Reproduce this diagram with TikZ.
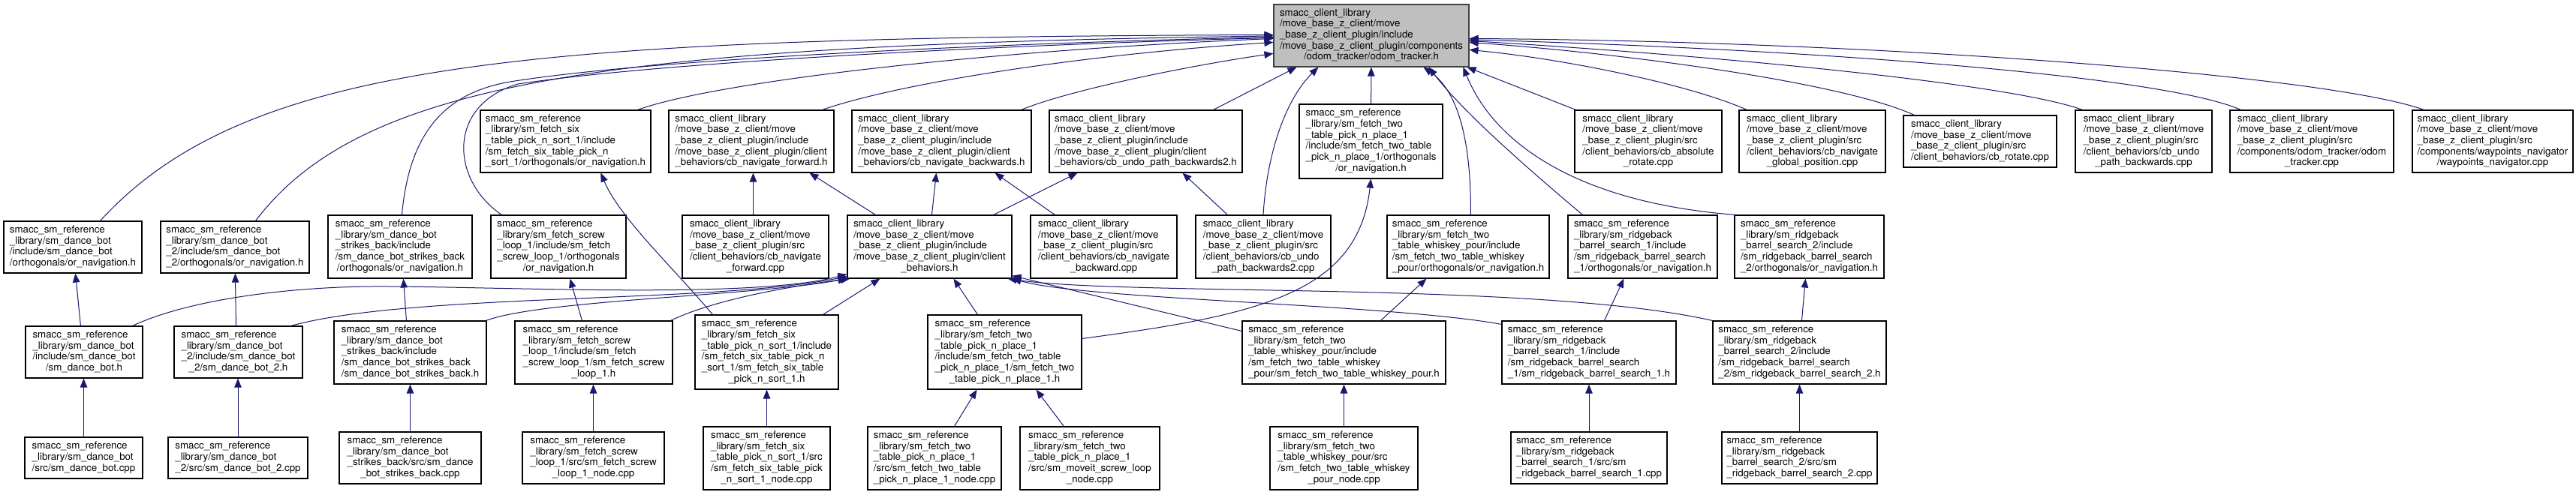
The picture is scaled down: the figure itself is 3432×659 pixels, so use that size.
\documentclass[tikz,border=0pt]{standalone}
\usepackage{fontspec}
\setmainfont{TeX Gyre Heros}
\usetikzlibrary{arrows.meta,calc}
\definecolor{edgec}{HTML}{191970}
\definecolor{rootfill}{HTML}{BFBFBF}
\definecolor{rootdraw}{HTML}{404040}
\newcommand\lc[1]{\multicolumn{1}{@{}c@{}}{#1}}
\newcommand\nd[7][]{%
 \pgfmathsetmacro\ndw{#5-#3}%
 \pgfmathsetmacro\ndh{#6-#4}%
 \pgfmathsetmacro\ndcx{(#3+#5)/2}%
 \pgfmathsetmacro\ndcy{(#4+#6)/2}%
 \node[box,#1,minimum width=\ndw pt,minimum height=\ndh pt] (#2) at (\ndcx,\ndcy) {\begin{tabular}{@{}l@{}}#7\end{tabular}};%
}
\tikzset{
 box/.style={draw=black,line width=1.1pt,fill=white,inner sep=0pt,
   font=\fontsize{13.33}{14.7}\selectfont},
 rootbox/.style={fill=rootfill,draw=rootdraw},
 dep/.style={draw=edgec,line width=1pt,-{Triangle[length=12pt,width=9.5pt]}}
}
\begin{document}
\begin{tikzpicture}[x=1pt,y=-1pt]
\fill[white] (0,0) rectangle (3432,659);
\useasboundingbox (0,0) rectangle (3432,659);

% root
\nd[rootbox]{root}{1697}{6}{1957}{89}{smacc\_client\_library\\/move\_base\_z\_client/move\\\_base\_z\_client\_plugin/include\\/move\_base\_z\_client\_plugin/components\\\lc{/odom\_tracker/odom\_tracker.h}}

% row 2
\nd{fsixor}{640}{147}{867}{230}{smacc\_sm\_reference\\\_library/sm\_fetch\_six\\\_table\_pick\_n\_sort\_1/include\\/sm\_fetch\_six\_table\_pick\_n\\\lc{\_sort\_1/orthogonals/or\_navigation.h}}
\nd{navfh}{891}{147}{1111}{230}{smacc\_client\_library\\/move\_base\_z\_client/move\\\_base\_z\_client\_plugin/include\\/move\_base\_z\_client\_plugin/client\\\lc{\_behaviors/cb\_navigate\_forward.h}}
\nd{navbh}{1135}{147}{1374}{230}{smacc\_client\_library\\/move\_base\_z\_client/move\\\_base\_z\_client\_plugin/include\\/move\_base\_z\_client\_plugin/client\\\lc{\_behaviors/cb\_navigate\_backwards.h}}
\nd{undoh}{1398}{147}{1655}{230}{smacc\_client\_library\\/move\_base\_z\_client/move\\\_base\_z\_client\_plugin/include\\/move\_base\_z\_client\_plugin/client\\\lc{\_behaviors/cb\_undo\_path\_backwards2.h}}
\nd{ftwoor}{1731}{139}{1922}{238}{smacc\_sm\_reference\\\_library/sm\_fetch\_two\\\_table\_pick\_n\_place\_1\\/include/sm\_fetch\_two\_table\\\_pick\_n\_place\_1/orthogonals\\\lc{/or\_navigation.h}}
\nd{absrot}{2098}{147}{2294}{230}{smacc\_client\_library\\/move\_base\_z\_client/move\\\_base\_z\_client\_plugin/src\\/client\_behaviors/cb\_absolute\\\lc{\_rotate.cpp}}
\nd{globpos}{2317}{147}{2512}{230}{smacc\_client\_library\\/move\_base\_z\_client/move\\\_base\_z\_client\_plugin/src\\/client\_behaviors/cb\_navigate\\\lc{\_global\_position.cpp}}
\nd{rotate}{2536}{154}{2740}{223}{smacc\_client\_library\\/move\_base\_z\_client/move\\\_base\_z\_client\_plugin/src\\\lc{/client\_behaviors/cb\_rotate.cpp}}
\nd{undocpp}{2765}{147}{2947}{230}{smacc\_client\_library\\/move\_base\_z\_client/move\\\_base\_z\_client\_plugin/src\\/client\_behaviors/cb\_undo\\\lc{\_path\_backwards.cpp}}
\nd{odomcpp}{2971}{147}{3189}{230}{smacc\_client\_library\\/move\_base\_z\_client/move\\\_base\_z\_client\_plugin/src\\/components/odom\_tracker/odom\\\lc{\_tracker.cpp}}
\nd{waypts}{3214}{147}{3428}{230}{smacc\_client\_library\\/move\_base\_z\_client/move\\\_base\_z\_client\_plugin/src\\/components/waypoints\_navigator\\\lc{/waypoints\_navigator.cpp}}

% row 3
\nd{dbor}{5}{295}{189}{364}{smacc\_sm\_reference\\\_library/sm\_dance\_bot\\/include/sm\_dance\_bot\\\lc{/orthogonals/or\_navigation.h}}
\nd{dbtor}{214}{295}{412}{364}{smacc\_sm\_reference\\\_library/sm\_dance\_bot\\\_2/include/sm\_dance\_bot\\\lc{\_2/orthogonals/or\_navigation.h}}
\nd{sbor}{437}{287}{629}{371}{smacc\_sm\_reference\\\_library/sm\_dance\_bot\\\_strikes\_back/include\\/sm\_dance\_bot\_strikes\_back\\\lc{/orthogonals/or\_navigation.h}}
\nd{fscrewor}{654}{287}{834}{371}{smacc\_sm\_reference\\\_library/sm\_fetch\_screw\\\_loop\_1/include/sm\_fetch\\\_screw\_loop\_1/orthogonals\\\lc{/or\_navigation.h}}
\nd{navfcpp}{909}{287}{1104}{371}{smacc\_client\_library\\/move\_base\_z\_client/move\\\_base\_z\_client\_plugin/src\\/client\_behaviors/cb\_navigate\\\lc{\_forward.cpp}}
\nd{cbh}{1129}{287}{1348}{371}{smacc\_client\_library\\/move\_base\_z\_client/move\\\_base\_z\_client\_plugin/include\\/move\_base\_z\_client\_plugin/client\\\lc{\_behaviors.h}}
\nd{navbcpp}{1373}{287}{1568}{371}{smacc\_client\_library\\/move\_base\_z\_client/move\\\_base\_z\_client\_plugin/src\\/client\_behaviors/cb\_navigate\\\lc{\_backward.cpp}}
\nd{undotcpp}{1593}{287}{1773}{371}{smacc\_client\_library\\/move\_base\_z\_client/move\\\_base\_z\_client\_plugin/src\\/client\_behaviors/cb\_undo\\\lc{\_path\_backwards2.cpp}}
\nd{whiskor}{1848}{287}{2064}{371}{smacc\_sm\_reference\\\_library/sm\_fetch\_two\\\_table\_whiskey\_pour/include\\/sm\_fetch\_two\_table\_whiskey\\\lc{\_pour/orthogonals/or\_navigation.h}}
\nd{rbaor}{2089}{287}{2288}{371}{smacc\_sm\_reference\\\_library/sm\_ridgeback\\\_barrel\_search\_1/include\\/sm\_ridgeback\_barrel\_search\\\lc{\_1/orthogonals/or\_navigation.h}}
\nd{rbbor}{2311}{287}{2510}{371}{smacc\_sm\_reference\\\_library/sm\_ridgeback\\\_barrel\_search\_2/include\\/sm\_ridgeback\_barrel\_search\\\lc{\_2/orthogonals/or\_navigation.h}}

% row 4
\nd{dbh}{34}{435}{190}{504}{smacc\_sm\_reference\\\_library/sm\_dance\_bot\\/include/sm\_dance\_bot\\\lc{/sm\_dance\_bot.h}}
\nd{dbth}{232}{435}{403}{504}{smacc\_sm\_reference\\\_library/sm\_dance\_bot\\\_2/include/sm\_dance\_bot\\\lc{\_2/sm\_dance\_bot\_2.h}}
\nd{sbh}{445}{428}{648}{512}{smacc\_sm\_reference\\\_library/sm\_dance\_bot\\\_strikes\_back/include\\/sm\_dance\_bot\_strikes\_back\\\lc{/sm\_dance\_bot\_strikes\_back.h}}
\nd{fscrewh}{686}{428}{896}{512}{smacc\_sm\_reference\\\_library/sm\_fetch\_screw\\\_loop\_1/include/sm\_fetch\\\_screw\_loop\_1/sm\_fetch\_screw\\\lc{\_loop\_1.h}}
\nd{fsixh}{926}{420}{1117}{519}{smacc\_sm\_reference\\\_library/sm\_fetch\_six\\\_table\_pick\_n\_sort\_1/include\\/sm\_fetch\_six\_table\_pick\_n\\\_sort\_1/sm\_fetch\_six\_table\\\lc{\_pick\_n\_sort\_1.h}}
\nd{ftwoh}{1236}{420}{1441}{519}{smacc\_sm\_reference\\\_library/sm\_fetch\_two\\\_table\_pick\_n\_place\_1\\/include/sm\_fetch\_two\_table\\\_pick\_n\_place\_1/sm\_fetch\_two\\\lc{\_table\_pick\_n\_place\_1.h}}
\nd{whiskh}{1655}{428}{1926}{512}{smacc\_sm\_reference\\\_library/sm\_fetch\_two\\\_table\_whiskey\_pour/include\\/sm\_fetch\_two\_table\_whiskey\\\lc{\_pour/sm\_fetch\_two\_table\_whiskey\_pour.h}}
\nd{rbah}{2001}{428}{2233}{512}{smacc\_sm\_reference\\\_library/sm\_ridgeback\\\_barrel\_search\_1/include\\/sm\_ridgeback\_barrel\_search\\\lc{\_1/sm\_ridgeback\_barrel\_search\_1.h}}
\nd{rbbh}{2282}{428}{2513}{512}{smacc\_sm\_reference\\\_library/sm\_ridgeback\\\_barrel\_search\_2/include\\/sm\_ridgeback\_barrel\_search\\\lc{\_2/sm\_ridgeback\_barrel\_search\_2.h}}

% row 5
\nd{dbcpp}{33}{583}{190}{638}{smacc\_sm\_reference\\\_library/sm\_dance\_bot\\\lc{/src/sm\_dance\_bot.cpp}}
\nd{dbtcpp}{224}{583}{410}{638}{smacc\_sm\_reference\\\_library/sm\_dance\_bot\\\lc{\_2/src/sm\_dance\_bot\_2.cpp}}
\nd{sbcpp}{452}{576}{641}{645}{smacc\_sm\_reference\\\_library/sm\_dance\_bot\\\_strikes\_back/src/sm\_dance\\\lc{\_bot\_strikes\_back.cpp}}
\nd{fscrewcpp}{696}{576}{885}{645}{smacc\_sm\_reference\\\_library/sm\_fetch\_screw\\\_loop\_1/src/sm\_fetch\_screw\\\lc{\_loop\_1\_node.cpp}}
\nd{fsixcpp}{937}{569}{1106}{653}{smacc\_sm\_reference\\\_library/sm\_fetch\_six\\\_table\_pick\_n\_sort\_1/src\\/sm\_fetch\_six\_table\_pick\\\lc{\_n\_sort\_1\_node.cpp}}
\nd{ftwocpp}{1156}{569}{1334}{653}{smacc\_sm\_reference\\\_library/sm\_fetch\_two\\\_table\_pick\_n\_place\_1\\/src/sm\_fetch\_two\_table\\\lc{\_pick\_n\_place\_1\_node.cpp}}
\nd{moveitcpp}{1359}{569}{1545}{653}{smacc\_sm\_reference\\\_library/sm\_fetch\_two\\\_table\_pick\_n\_place\_1\\/src/sm\_moveit\_screw\_loop\\\lc{\_node.cpp}}
\nd{whiskcpp}{1692}{569}{1889}{653}{smacc\_sm\_reference\\\_library/sm\_fetch\_two\\\_table\_whiskey\_pour/src\\/sm\_fetch\_two\_table\_whiskey\\\lc{\_pour\_node.cpp}}
\nd{rbacpp}{2013}{576}{2221}{645}{smacc\_sm\_reference\\\_library/sm\_ridgeback\\\_barrel\_search\_1/src/sm\\\lc{\_ridgeback\_barrel\_search\_1.cpp}}
\nd{rbbcpp}{2294}{576}{2501}{645}{smacc\_sm\_reference\\\_library/sm\_ridgeback\\\_barrel\_search\_2/src/sm\\\lc{\_ridgeback\_barrel\_search\_2.cpp}}

% ---- edges into root
\draw[dep] ($(dbor.north west)+(129,0)$) .. controls (330,80) and (700,50) .. ($(root.north west)+(0,41)$);
\draw[dep] ($(dbtor.north west)+(127,0)$) .. controls (480,110) and (800,60) .. ($(root.north west)+(0,42.5)$);
\draw[dep] ($(sbor.north west)+(99,0)$) .. controls (545,180) and (590,122) .. (686,108) .. controls (900,75) and (1400,56) .. ($(root.north west)+(0,44)$);
\draw[dep] ($(fscrewor.north west)+(15,0)$) .. controls (600,240) and (595,140) .. (690,112) .. controls (900,80) and (1400,58) .. ($(root.north west)+(0,45)$);
\draw[dep] ($(fsixor.north west)+(210,0)$) .. controls (950,110) and (1300,68) .. ($(root.north west)+(0,46)$);
\draw[dep] ($(navfh.north west)+(205,0)$) .. controls (1200,110) and (1450,72) .. ($(root.north west)+(0,51)$);
\draw[dep] ($(navbh.north west)+(226,0)$) .. controls (1430,118) and (1600,85) .. ($(root.north west)+(0,66)$);
\draw[dep] ($(undoh.north west)+(219,0)$) -- ($(root.south west)+(31,0)$);
\draw[dep] (undotcpp.north) .. controls (1688,200) and (1715,130) .. ($(root.south west)+(60,0)$);
\draw[dep] (ftwoor) -- (root);
\draw[dep] ($(whiskor.north west)+(112,0)$) .. controls (1960,180) and (1940,120) .. ($(root.south west)+(200,0)$);
\draw[dep] ($(rbaor.north west)+(20,0)$) .. controls (2030,220) and (1950,150) .. ($(root.south west)+(207,0)$);
\draw[dep] ($(rbbor.north west)+(2,0)$) .. controls (2100,270) and (1990,190) .. ($(root.south west)+(253,0)$);
\draw[dep] ($(absrot.north west)+(2,0)$) -- ($(root.south east)+(-3,0)$);
\draw[dep] ($(globpos.north west)+(11,0)$) .. controls (2250,112) and (2080,78) .. ($(root.north east)+(0,61)$);
\draw[dep] ($(rotate.north west)+(15,0)$) .. controls (2450,108) and (2150,70) .. ($(root.north east)+(0,51)$);
\draw[dep] ($(undocpp.north west)+(10,0)$) .. controls (2680,112) and (2300,75) .. ($(root.north east)+(0,49)$);
\draw[dep] ($(odomcpp.north west)+(15,0)$) .. controls (2880,100) and (2400,65) .. ($(root.north east)+(0,47.5)$);
\draw[dep] ($(waypts.north west)+(16,0)$) .. controls (3100,100) and (2500,55) .. ($(root.north east)+(0,46)$);

% ---- row 3 -> row 2
\draw[dep] ($(cbh.north west)+(38,0)$) -- ($(navfh.south west)+(188,0)$);
\draw[dep] ($(cbh.north west)+(113,0)$) -- ($(navbh.south west)+(113,0)$);
\draw[dep] ($(cbh.north west)+(195,0)$) -- ($(undoh.south west)+(38,0)$);
\draw[dep] ($(navfcpp.north west)+(95,0)$) -- ($(navfh.south west)+(113,0)$);
\draw[dep] ($(navbcpp.north west)+(33,0)$) -- ($(navbh.south west)+(191,0)$);
\draw[dep] ($(undotcpp.north west)+(43,0)$) -- ($(undoh.south west)+(178,0)$);

% ---- row 4 -> upper rows
\draw[dep] ($(fsixh.north west)+(24,0)$) .. controls (900,360) and (825,290) .. ($(fsixor.south west)+(161,0)$);
\draw[dep] ($(ftwoh.north east)+(0,32)$) .. controls (1680,420) and (1810,390) .. ($(ftwoor.south west)+(96,0)$);
\draw[dep] ($(dbh.north west)+(74,0)$) -- ($(dbor.south west)+(96,0)$);
\draw[dep] ($(dbth.north west)+(83,0)$) -- ($(dbtor.south west)+(100,0)$);
\draw[dep] ($(sbh.north west)+(97,0)$) -- ($(sbor.south west)+(101,0)$);
\draw[dep] ($(fscrewh.north west)+(90,0)$) -- ($(fscrewor.south west)+(106,0)$);
\draw[dep] ($(whiskh.north west)+(185,0)$) -- ($(whiskor.south west)+(53,0)$);
\draw[dep] ($(rbah.north west)+(137,0)$) -- ($(rbaor.south west)+(75,0)$);
\draw[dep] ($(rbbh.north west)+(119,0)$) -- ($(rbbor.south west)+(95,0)$);
\draw[dep] ($(fsixh.north west)+(171,0)$) -- ($(cbh.south west)+(44,0)$);
\draw[dep] ($(ftwoh.north west)+(67,0)$) -- ($(cbh.south west)+(142,0)$);
\draw[dep] ($(whiskh.north west)+(0,14)$) -- ($(cbh.south east)+(0,-4)$);
\draw[dep] ($(dbh.north east)+(-14,0)$) .. controls (250,400) and (380,383) .. (494,382) .. controls (650,381) and (1000,400) .. ($(cbh.south west)+(0,-6)$);
\draw[dep] ($(dbth.north east)+(-16,0)$) .. controls (550,390) and (950,405) .. ($(cbh.south west)+(0,-3)$);
\draw[dep] ($(sbh.north east)+(-1,0)$) .. controls (720,400) and (1000,395) .. (cbh.south west);
\draw[dep] ($(fscrewh.north east)+(-3,0)$) .. controls (950,400) and (1050,382) .. ($(cbh.south west)+(4,0)$);
\draw[dep] ($(rbah.north west)+(0,5)$) .. controls (1850,405) and (1450,400) .. (cbh.south east);
\draw[dep] (rbbh.north west) .. controls (2050,375) and (1500,395) .. ($(cbh.south east)+(-6,0)$);

% ---- row 5 -> row 4
\draw[dep] (dbcpp.north) -- (dbcpp.north |- dbh.south);
\draw[dep] (dbtcpp.north) -- (dbtcpp.north |- dbth.south);
\draw[dep] (sbcpp.north) -- (sbcpp.north |- sbh.south);
\draw[dep] (fscrewcpp.north) -- (fscrewcpp.north |- fscrewh.south);
\draw[dep] (fsixcpp.north) -- (fsixcpp.north |- fsixh.south);
\draw[dep] ($(ftwocpp.north west)+(116,0)$) -- ($(ftwoh.south west)+(66,0)$);
\draw[dep] ($(moveitcpp.north west)+(59,0)$) -- ($(ftwoh.south west)+(145,0)$);
\draw[dep] (whiskcpp.north) -- (whiskcpp.north |- whiskh.south);
\draw[dep] (rbacpp.north) -- (rbacpp.north |- rbah.south);
\draw[dep] (rbbcpp.north) -- (rbbcpp.north |- rbbh.south);
\end{tikzpicture}
\end{document}
